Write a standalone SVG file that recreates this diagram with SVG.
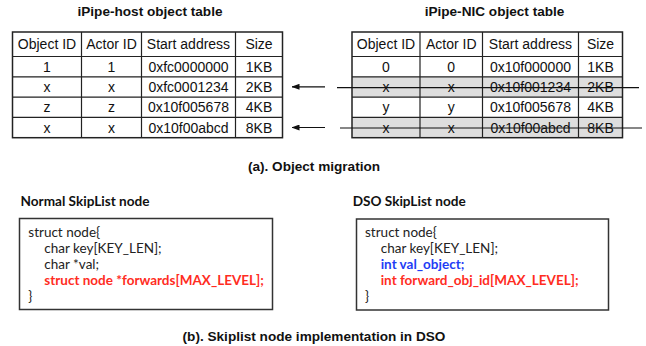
<svg xmlns="http://www.w3.org/2000/svg" width="646" height="346" viewBox="0 0 646 346">
<style>
.title{font-family:"Liberation Sans",Arial,sans-serif;font-weight:bold;font-size:13.6px;fill:#111;text-anchor:middle}
.cell{font-family:"Liberation Sans",Arial,sans-serif;font-size:14px;fill:#111;text-anchor:middle}
.grid{fill:none;stroke:#222;stroke-width:1.2}
.outer{fill:none;stroke:#222;stroke-width:1.5}
.gray{fill:#dedede}
.sub{font-family:Lato,"Open Sans",sans-serif;font-weight:bold;font-size:13.6px;fill:#111}
.code{font-family:Lato,"Open Sans",sans-serif;font-size:13.5px;fill:#222}
.red{fill:#ff2d1f;font-weight:bold}
.blue{fill:#1f3df5;font-weight:bold}
.box{fill:#fff;stroke:#333;stroke-width:1.5}
.conn{stroke:#111;stroke-width:1.2;fill:none}
</style>
<defs>
<marker id="ah" markerWidth="8" markerHeight="6" refX="7.5" refY="3" orient="auto" markerUnits="userSpaceOnUse">
<path d="M0,0 L8,3 L0,6 Z" fill="#111"/>
</marker>
</defs>
<rect width="646" height="346" fill="#fff"/>

<g id="host-table">
<text class="title" x="150" y="16">iPipe-host object table</text>
<path class="grid" d="M12.5,56.5H282.5M12.5,76.8H282.5M12.5,97.1H282.5M12.5,117.4H282.5M81.5,32V137.7M141.5,32V137.7M235.5,32V137.7"/>
<rect class="outer" x="12.5" y="32" width="270" height="105.7"/>
<text class="cell" x="47" y="49.3">Object ID</text>
<text class="cell" x="111.5" y="49.3">Actor ID</text>
<text class="cell" x="188.5" y="49.3">Start address</text>
<text class="cell" x="259" y="49.3">Size</text>
<text class="cell" x="47" y="71.7">1</text><text class="cell" x="111.5" y="71.7">1</text><text class="cell" x="188.5" y="71.7">0xfc0000000</text><text class="cell" x="259" y="71.7">1KB</text>
<text class="cell" x="47" y="92">x</text><text class="cell" x="111.5" y="92">x</text><text class="cell" x="188.5" y="92">0xfc0001234</text><text class="cell" x="259" y="92">2KB</text>
<text class="cell" x="47" y="112.3">z</text><text class="cell" x="111.5" y="112.3">z</text><text class="cell" x="188.5" y="112.3">0x10f005678</text><text class="cell" x="259" y="112.3">4KB</text>
<text class="cell" x="47" y="132.6">x</text><text class="cell" x="111.5" y="132.6">x</text><text class="cell" x="188.5" y="132.6">0x10f00abcd</text><text class="cell" x="259" y="132.6">8KB</text>
</g>

<g id="nic-table">
<text class="title" x="494.5" y="16">iPipe-NIC object table</text>
<rect class="gray" x="352" y="76.8" width="270.5" height="20.3"/>
<rect class="gray" x="352" y="117.4" width="270.5" height="20.3"/>
<path class="grid" d="M352,56.5H622.5M352,76.8H622.5M352,97.1H622.5M352,117.4H622.5M420,32V137.7M482.5,32V137.7M578.5,32V137.7"/>
<rect class="outer" x="352" y="32" width="270.5" height="105.7"/>
<text class="cell" x="386" y="49.3">Object ID</text>
<text class="cell" x="451.25" y="49.3">Actor ID</text>
<text class="cell" x="530.5" y="49.3">Start address</text>
<text class="cell" x="600.5" y="49.3">Size</text>
<text class="cell" x="386" y="71.7">0</text><text class="cell" x="451.25" y="71.7">0</text><text class="cell" x="530.5" y="71.7">0x10f000000</text><text class="cell" x="600.5" y="71.7">1KB</text>
<text class="cell" x="386" y="92">x</text><text class="cell" x="451.25" y="92">x</text><text class="cell" x="530.5" y="92">0x10f001234</text><text class="cell" x="600.5" y="92">2KB</text>
<text class="cell" x="386" y="112.3">y</text><text class="cell" x="451.25" y="112.3">y</text><text class="cell" x="530.5" y="112.3">0x10f005678</text><text class="cell" x="600.5" y="112.3">4KB</text>
<text class="cell" x="386" y="132.6">x</text><text class="cell" x="451.25" y="132.6">x</text><text class="cell" x="530.5" y="132.6">0x10f00abcd</text><text class="cell" x="600.5" y="132.6">8KB</text>
</g>

<g id="connectors">
<line class="conn" x1="325" y1="86.8" x2="292" y2="86.8" marker-end="url(#ah)"/>
<line class="conn" x1="325" y1="127.5" x2="292" y2="127.5" marker-end="url(#ah)"/>
<line class="conn" x1="337" y1="87.6" x2="639" y2="87.6"/>
<line class="conn" x1="340" y1="128" x2="642" y2="128"/>
</g>

<text class="title" x="314" y="170.5">(a). Object migration</text>

<g id="normal-node">
<text class="sub" x="20.5" y="206">Normal SkipList node</text>
<rect class="box" x="19.5" y="218.5" width="253" height="91"/>
<text class="code" x="28.3" y="236.5">struct node{</text>
<text class="code" x="44.3" y="252.7">char key[KEY_LEN];</text>
<text class="code" x="44.3" y="268.9">char *val;</text>
<text class="code red" x="44.3" y="285.1">struct node *forwards[MAX_LEVEL];</text>
<text class="code" x="28.3" y="301.3">}</text>
</g>

<g id="dso-node">
<text class="sub" x="352.7" y="206">DSO SkipList node</text>
<rect class="box" x="356.5" y="219" width="252" height="91"/>
<text class="code" x="365" y="236.5">struct node{</text>
<text class="code" x="380.7" y="252.7">char key[KEY_LEN];</text>
<text class="code blue" x="380.7" y="268.9">int val_object;</text>
<text class="code red" x="380.7" y="285.1">int forward_obj_id[MAX_LEVEL];</text>
<text class="code" x="365" y="301.3">}</text>
</g>

<text class="title" x="314" y="341">(b). Skiplist node implementation in DSO</text>
</svg>
